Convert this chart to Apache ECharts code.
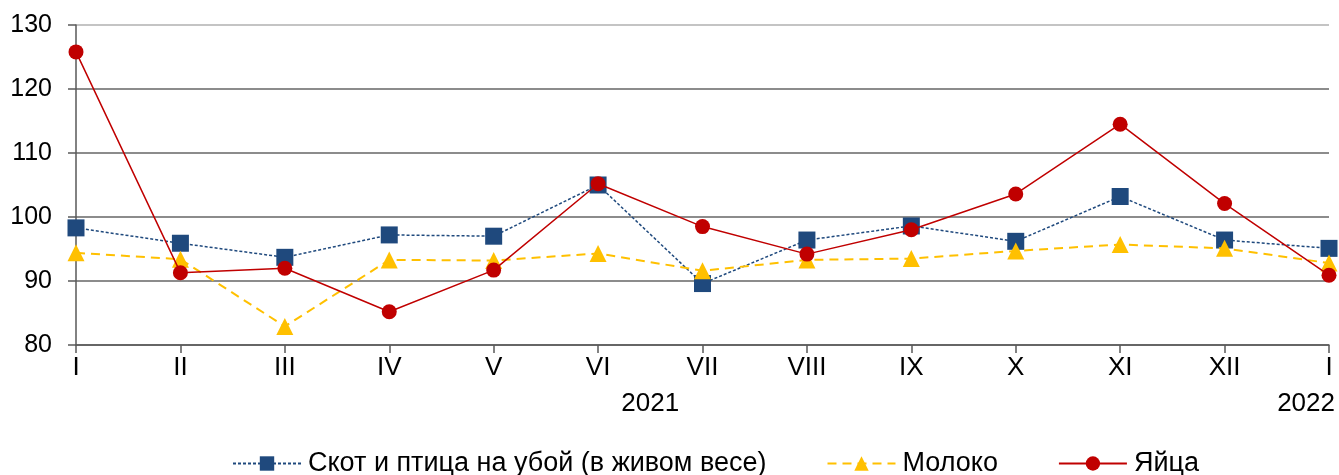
<!DOCTYPE html>
<html>
<head>
<meta charset="utf-8">
<script src="https://cdn.jsdelivr.net/npm/echarts@6/dist/echarts.min.js"></script>
<style>
  html, body { margin: 0; padding: 0; background: #fff; }
  #chart { width: 1339px; height: 475px; }
</style>
</head>
<body>
<div id="chart"></div>
<script>
// месяцы
const months = ['I', 'II', 'III', 'IV', 'V', 'VI', 'VII', 'VIII', 'IX', 'X', 'XI', 'XII', 'I'];
// подписи годов: [позиция между месяцами, текст]
const yearLabels = [[5.5, '2021'], [12, '2022']];

const seriesNames = ['Скот и птица на убой (в живом весе)', 'Молоко', 'Яйца'];
const livestock = [98.3, 95.9, 93.7, 97.2, 97.0, 105.0, 89.6, 96.4, 98.6, 96.2, 103.2, 96.4, 95.1];
const milk      = [94.4, 93.4, 82.9, 93.3, 93.2, 94.3, 91.6, 93.3, 93.5, 94.7, 95.7, 95.1, 92.8];
const eggs      = [125.8, 91.3, 92.0, 85.2, 91.7, 105.2, 98.5, 94.2, 98.0, 103.6, 114.5, 102.1, 90.9];

const FONT = 'Liberation Sans, Arial, sans-serif';
const GRID_COLOR = '#8c8c8c';

const myChart = echarts.init(document.getElementById('chart'));

const option = {
  animation: false,
  backgroundColor: '#fff',
  textStyle: { fontFamily: FONT },
  grid: { left: 76, right: 10, top: 25, bottom: 130 },
  legend: {
    top: 450,
    left: 232,
    padding: 0,
    itemWidth: 68,
    itemHeight: 18,
    itemGap: 60,
    textStyle: { fontSize: 27, color: '#000', fontFamily: FONT, padding: [0, 0, 0, 2] },
    data: seriesNames
  },
  xAxis: {
    type: 'category',
    boundaryGap: false,
    data: months,
    axisLine: { lineStyle: { color: '#595959', width: 1.5 } },
    axisTick: { show: true, length: 8, alignWithLabel: true, lineStyle: { color: '#595959', width: 1.5 } },
    axisLabel: { fontSize: 26, color: '#000', margin: 10, fontFamily: FONT }
  },
  yAxis: {
    type: 'value',
    min: 80,
    max: 130,
    interval: 10,
    axisLine: { show: true, lineStyle: { color: '#595959', width: 1.5 } },
    axisTick: { show: true, length: 8, lineStyle: { color: '#595959', width: 1.5 } },
    axisLabel: { fontSize: 25, color: '#000', margin: 24, fontFamily: FONT },
    splitLine: {
      lineStyle: {
        color: [GRID_COLOR, GRID_COLOR, GRID_COLOR, GRID_COLOR, GRID_COLOR, '#c4c4c4'],
        width: 2
      }
    }
  },
  series: [
    {
      name: seriesNames[0],
      type: 'line',
      data: livestock,
      symbol: 'rect',
      symbolSize: 17,
      itemStyle: { color: '#1f497d' },
      lineStyle: { color: '#1f497d', width: 1.5, type: [3, 2] },
      z: 2
    },
    {
      name: seriesNames[1],
      type: 'line',
      data: milk,
      symbol: 'triangle',
      symbolSize: 17,
      itemStyle: { color: '#ffc000' },
      lineStyle: { color: '#ffc000', width: 2, type: [9, 6] },
      z: 3
    },
    {
      name: seriesNames[2],
      type: 'line',
      data: eggs,
      symbol: 'circle',
      symbolSize: 15,
      itemStyle: { color: '#c00000' },
      lineStyle: { color: '#c00000', width: 1.5 },
      z: 4
    }
  ]
};

myChart.setOption(option);

// подписи годов под осью месяцев
const yearGraphics = yearLabels.map((item) => {
  const left  = myChart.convertToPixel({ xAxisIndex: 0 }, Math.floor(item[0]));
  const right = myChart.convertToPixel({ xAxisIndex: 0 }, Math.ceil(item[0]));
  const isLast = item[0] >= months.length - 1;
  return {
    type: 'text',
    x: isLast ? 1335 : (left + right) / 2,
    y: 404,
    style: {
      text: item[1],
      fontSize: 26,
      fontFamily: FONT,
      fill: '#000',
      align: isLast ? 'right' : 'center',
      verticalAlign: 'middle'
    }
  };
});

myChart.setOption({ graphic: yearGraphics });
</script>
</body>
</html>
